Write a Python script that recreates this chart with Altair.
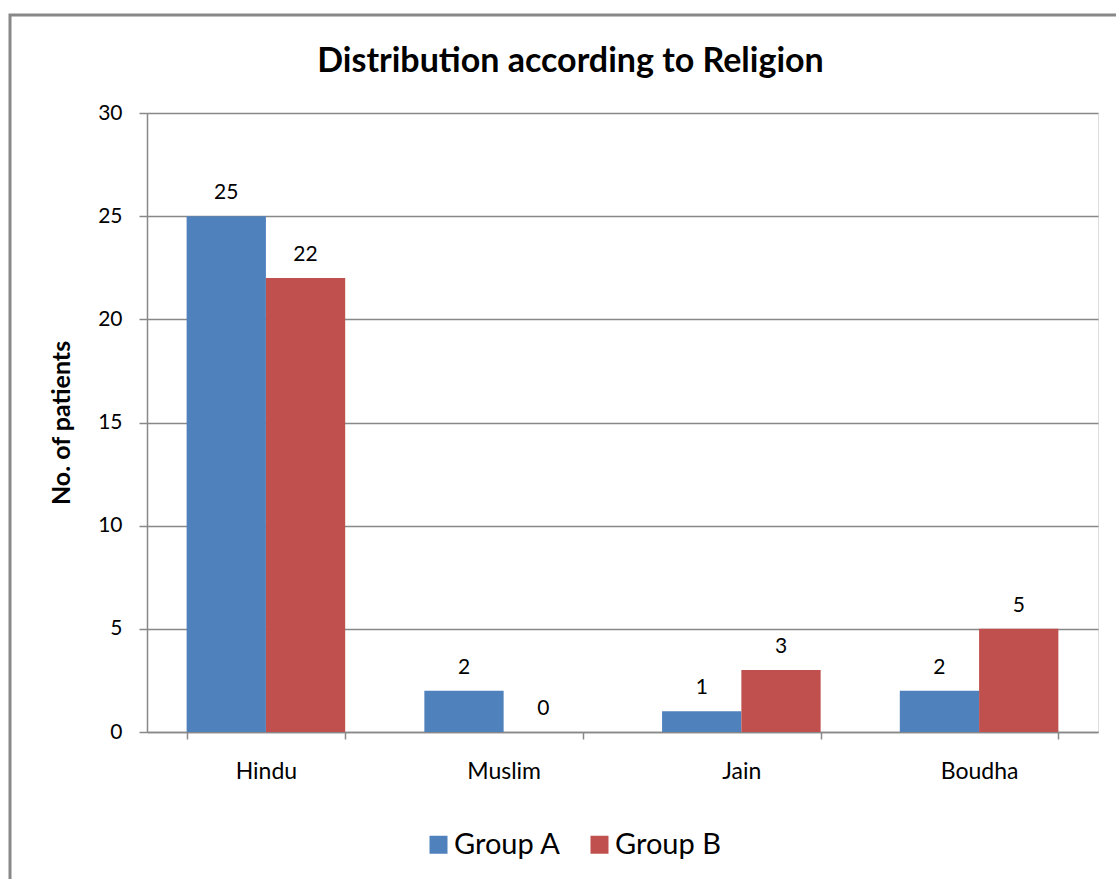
import altair as alt
import pandas as pd

# Patient counts by religion for the two study groups
religions = ["Hindu", "Muslim", "Jain", "Boudha"]
groups = ["Group A", "Group B"]
group_a = [25, 2, 1, 2]
group_b = [22, 0, 3, 5]
y_ticks = [0, 5, 10, 15, 20, 25, 30]

rows = []
for r, a, b in zip(religions, group_a, group_b):
    rows.append({"Religion": r, "Group": "Group A", "Count": a})
    rows.append({"Religion": r, "Group": "Group B", "Count": b})
df = pd.DataFrame(rows)

FONT = "Lato"
GRAY = "#888888"
W, H = 951, 619
PAD_L, PAD_T = 147, 113

x_enc = alt.X(
    "Religion:N",
    sort=religions,
    title=None,
    scale=alt.Scale(paddingInner=0.333, paddingOuter=0.1667),
    axis=alt.Axis(
        labelAngle=0,
        labelFont=FONT,
        labelFontSize=23,
        labelColor="black",
        labelPadding=21,
        tickBand="extent",
        tickSize=7,
        tickColor=GRAY,
        tickWidth=1.5,
        domainColor=GRAY,
        domainWidth=1.5,
        grid=False,
    ),
)
y_enc = alt.Y(
    "Count:Q",
    title="No. of patients",
    scale=alt.Scale(domain=[0, 30], nice=False),
    axis=alt.Axis(
        values=y_ticks,
        labelFont=FONT,
        labelFontSize=21,
        labelColor="black",
        labelPadding=17,
        tickSize=8,
        tickColor=GRAY,
        tickWidth=1.5,
        domainColor=GRAY,
        domainWidth=1.5,
        gridColor=GRAY,
        gridWidth=1.5,
        titleFont=FONT,
        titleFontSize=25,
        titleFontWeight="bold",
        titleColor="black",
        titlePadding=23,
    ),
)
xoff = alt.XOffset("Group:N", sort=groups, scale=alt.Scale(paddingInner=0, paddingOuter=0))

bars = alt.Chart(df).mark_bar().encode(
    x=x_enc,
    xOffset=xoff,
    y=y_enc,
    color=alt.Color(
        "Group:N",
        sort=groups,
        scale=alt.Scale(domain=groups, range=["#4F81BD", "#C0504D"]),
        legend=alt.Legend(
            title=None,
            orient="none",
            legendX=277,
            legendY=717,
            direction="horizontal",
            symbolType="square",
            symbolSize=324,
            symbolStrokeWidth=0,
            labelFont=FONT,
            labelFontSize=29,
            labelColor="black",
            labelOffset=1,
            columnPadding=24,
        ),
    ),
)

labels = alt.Chart(df).mark_text(
    font=FONT, fontSize=21, color="black", baseline="alphabetic", dy=-17
).encode(
    x=alt.X("Religion:N", sort=religions),
    xOffset=xoff,
    y="Count:Q",
    text="Count:Q",
)

# Outer chart-area frame
frame = alt.Chart(pd.DataFrame({"k": [0]})).mark_rect(
    fill=None, stroke=GRAY, strokeWidth=3
).encode(
    x=alt.value(10 - PAD_L),
    x2=alt.value(1130 - PAD_L),
    y=alt.value(15 - PAD_T),
    y2=alt.value(895 - PAD_T),
)

chart = (
    alt.layer(frame, bars, labels)
    .properties(
        width=W,
        height=H,
        padding={"left": PAD_L, "top": PAD_T, "right": 1116 - PAD_L - W, "bottom": 879 - PAD_T - H},
        autosize=alt.AutoSizeParams(type="none"),
        title=alt.TitleParams(
            "Distribution according to Religion",
            font=FONT,
            fontSize=34,
            fontWeight="bold",
            color="black",
            anchor="middle",
            baseline="alphabetic",
            dx=-52,
            offset=-92,
        ),
    )
    .configure_view(stroke=None)
    .configure(background="white")
)

chart.save("out.html", embed_options={"renderer": "svg", "actions": False})
